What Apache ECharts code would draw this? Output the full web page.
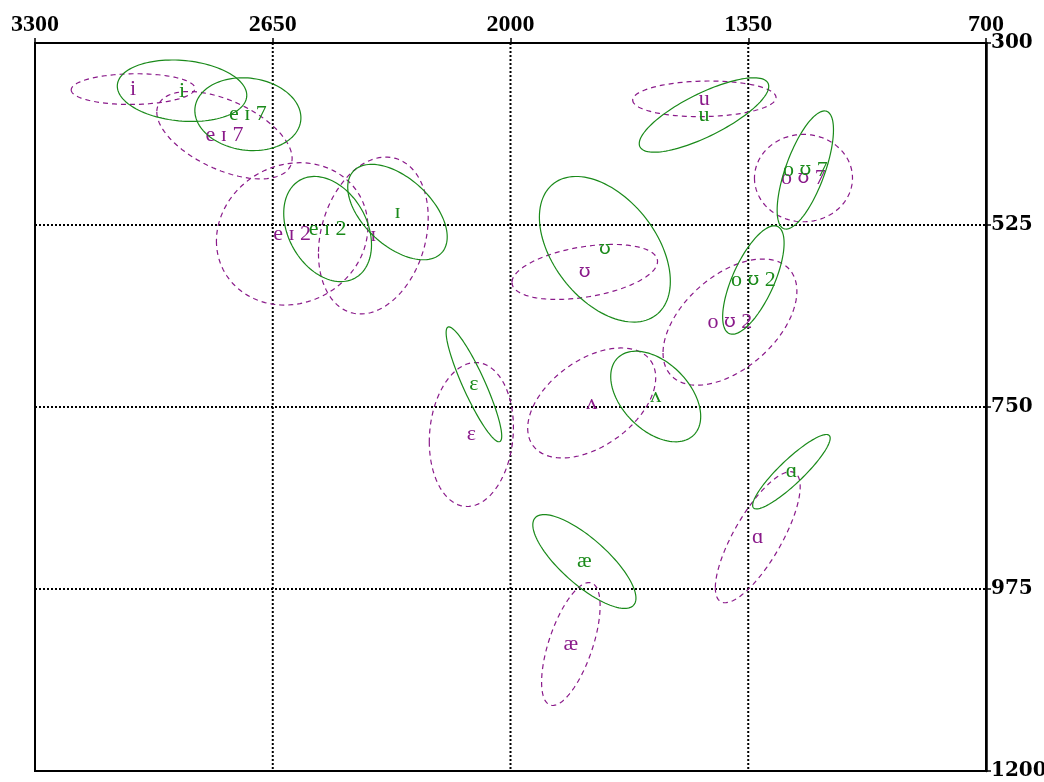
<!DOCTYPE html>
<html>
<head>
<meta charset="utf-8">
<script src="https://cdn.jsdelivr.net/npm/echarts@6/dist/echarts.min.js"></script>
<style>
html,body{margin:0;padding:0;background:#fff;}
#chart{width:1044px;height:782px;}
</style>
</head>
<body>
<div id="chart"></div>
<script>
// Axis ticks
const F2_TICKS = [3300, 2650, 2000, 1350, 700];
const F1_TICKS = [300, 525, 750, 975, 1200];

// Vowel labels (same order in both groups)
const vowels = ['i', 'e ɪ 7', 'e ɪ 2', 'ɪ', 'ɛ', 'æ', 'ʌ', 'ɑ', 'o ʊ 2', 'o ʊ 7', 'ʊ', 'u'];

// Group A (green, solid): mean F2, mean F1, sd F2, sd F1, correlation
const greenF2   = [2898, 2718, 2500, 2309, 2100, 1798, 1603, 1232, 1336, 1194, 1742, 1471];
const greenF1   = [359,  388,  530,  509,  722,  941,  737,  830,  593,  457,  555,  389];
const greenSdF2 = [177,  145,  120,  136,  76,   141,  123,  106,  84,   77,   179,  177];
const greenSdF1 = [38,   45,   65,   59,   71,   58,   56,   46,   67,   73,   90,   46];
const greenRho  = [-0.15, -0.1, -0.3, -0.52, -0.9, -0.78, -0.44, 0.9, 0.68, 0.68, -0.44, 0.77];

// Group B (purple, dashed)
const purpleF2   = [3032, 2782, 2597, 2375, 2107, 1835, 1778, 1324, 1400, 1199, 1797, 1470];
const purpleF1   = [357,  414,  536,  538,  784,  1043, 745,  911,  645,  467,  583,  369];
const purpleSdF2 = [169,  185,  207,  150,  115,  80,   175,  116,  183,  134,  199,  196];
const purpleSdF1 = [19,   54,   88,   97,   89,   76,   68,   81,   78,   54,   34,   22];
const purpleRho  = [0.05, -0.53, 0.1, 0.23, 0.1, 0.62, 0.46, 0.77, 0.49, 0, 0.38, 0.07];

const GREEN = '#1a8a1a';
const PURPLE = '#8a1a8a';

function buildData(f2, f1, s2, s1, r) {
  return f2.map((v, i) => [v, f1[i], s2[i], s1[i], r[i], i]);
}

function richLabel(s) {
  return s.split('ʊ').join('{u|ʊ}');
}

function ellipseRender(color, dashed) {
  return function (params, api) {
    const c2 = api.value(0), c1 = api.value(1);
    const s2 = api.value(2), s1 = api.value(3), rho = api.value(4);
    const idx = api.value(5);
    const q = Math.sqrt(Math.max(0, 1 - rho * rho));
    const pts = [];
    const N = 120;
    for (let k = 0; k < N; k++) {
      const t = 2 * Math.PI * k / N;
      const x = c2 + s2 * Math.cos(t);
      const y = c1 + s1 * (rho * Math.cos(t) + q * Math.sin(t));
      pts.push(api.coord([x, y]));
    }
    const center = api.coord([c2, c1]);
    return {
      type: 'group',
      children: [
        {
          type: 'polygon',
          shape: { points: pts },
          style: { fill: 'none', stroke: color, lineWidth: 1.2, lineDash: dashed ? [5, 4] : null }
        },
        {
          type: 'text',
          z2: 10,
          style: {
            text: richLabel(vowels[idx]), x: center[0], y: center[1],
            fill: color, font: '22px "Liberation Serif", serif',
            align: 'center', verticalAlign: 'middle',
            rich: { u: { fontFamily: 'DejaVu Serif', fontSize: 19, fill: color } }
          }
        }
      ]
    };
  };
}

function gridRender(vertical) {
  return function (params, api) {
    const v = api.value(vertical ? 0 : 1);
    const a = vertical ? api.coord([v, F1_TICKS[0]]) : api.coord([F2_TICKS[0], v]);
    const b = vertical ? api.coord([v, F1_TICKS[F1_TICKS.length - 1]]) : api.coord([F2_TICKS[F2_TICKS.length - 1], v]);
    return {
      type: 'line',
      shape: { x1: a[0], y1: a[1], x2: b[0], y2: b[1] },
      style: { stroke: '#000', lineWidth: 2, lineDash: [2, 2] }
    };
  };
}

const innerF2 = F2_TICKS.slice(1, -1);
const innerF1 = F1_TICKS.slice(1, -1);

const chart = echarts.init(document.getElementById('chart'));
chart.setOption({
  animation: false,
  backgroundColor: '#fff',
  grid: { left: 35, right: 58, top: 43, bottom: 11, show: true, borderColor: '#000', borderWidth: 2, containLabel: false, outerBoundsMode: 'none' },
  xAxis: {
    type: 'value', position: 'top', inverse: true, min: 700, max: 3300,
    axisLine: { show: true, onZero: false, lineStyle: { color: '#000', width: 2 } },
    axisTick: { show: true, customValues: F2_TICKS, length: 5, lineStyle: { color: '#000', width: 1.5 } },
    axisLabel: { customValues: F2_TICKS, formatter: v => String(v), color: '#000', fontFamily: 'Liberation Serif', fontWeight: 'bold', fontSize: 24, margin: 6 },
    splitLine: { show: false }
  },
  yAxis: {
    type: 'value', position: 'right', inverse: true, min: 300, max: 1200,
    axisLine: { show: true, onZero: false, lineStyle: { color: '#000', width: 2.5 } },
    axisTick: { show: true, customValues: F1_TICKS, length: 5, lineStyle: { color: '#000', width: 1.5 } },
    axisLabel: { customValues: F1_TICKS, formatter: v => String(v), color: '#000', fontFamily: 'DejaVu Serif', fontWeight: 'bold', fontSize: 20, margin: 5 },
    splitLine: { show: false }
  },
  series: [
    { type: 'custom', renderItem: gridRender(true), data: innerF2.map(v => [v, 750]), silent: true, z: 1 },
    { type: 'custom', renderItem: gridRender(false), data: innerF1.map(v => [2000, v]), silent: true, z: 1 },
    { type: 'custom', renderItem: ellipseRender(PURPLE, true), data: buildData(purpleF2, purpleF1, purpleSdF2, purpleSdF1, purpleRho), z: 2, clip: false },
    { type: 'custom', renderItem: ellipseRender(GREEN, false), data: buildData(greenF2, greenF1, greenSdF2, greenSdF1, greenRho), z: 3, clip: false }
  ]
});
</script>
</body>
</html>
